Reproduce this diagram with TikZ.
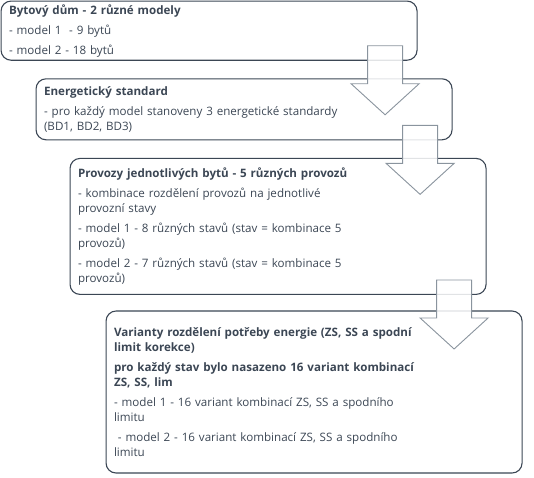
\documentclass[tikz,border=0pt]{standalone}
\usepackage{fontspec}
\setmainfont{Open Sans}
\usetikzlibrary{positioning,calc}
\definecolor{boxline}{HTML}{3B4654}
\definecolor{arrline}{HTML}{8A949E}
\tikzset{
stage/.style = {draw=boxline, line width=1.1pt, rounded corners=10pt, align=left, text=boxline,
	text width=400pt, inner xsep=5.5pt, anchor=north west, minimum width=416pt,
	font=\fontsize{11.6}{15}\selectfont},
flowarrow/.style = {draw=arrline, line width=0.9pt, fill=white, fill opacity=0.85, line join=miter},
}
% block arrow hanging down from the lower right of a stage
\newcommand{\stagearrow}[1]{%
	\draw[flowarrow] ($(#1.south east)+(-50pt,15pt)$) -- ++(35pt,0) -- ++(0,-38pt) -- ++(16.5pt,0)
	-- ++(-34pt,-31pt) -- ++(-34pt,31pt) -- ++(16.5pt,0) -- cycle;}

\begin{document}
\begin{tikzpicture}[x=1pt, y=1pt]

	\useasboundingbox (0,0) rectangle (534,-477);

	\node[stage, minimum height=59pt] (dum) at (0.5,-0.5) {\textbf{Bytový dům - 2 různé modely}\\[5pt]
		- model 1\ \ - 9 bytů\\[5pt]
		- model 2 - 18 bytů};
	\node[stage, minimum height=61pt, below=17.5pt of dum.south west, anchor=north west, xshift=35pt] (standard) {\textbf{Energetický standard}\\[5pt]
		- pro každý model stanoveny 3 energetické standardy\\
		(BD1, BD2, BD3)};
	\node[stage, minimum height=136pt, below=17.5pt of standard.south west, anchor=north west, xshift=34pt] (provozy) {\textbf{Provozy jednotlivých bytů - 5 různých provozů}\\[5pt]
		- kombinace rozdělení provozů na jednotlivé\\
		provozní stavy\\[5pt]
		- model 1 - 8 různých stavů (stav = kombinace 5\\
		provozů)\\[5pt]
		- model 2 - 7 různých stavů (stav = kombinace 5\\
		provozů)};
	\node[stage, minimum height=162pt, below=15.5pt of provozy.south west, anchor=north west, xshift=36pt] (varianty) {\textbf{Varianty rozdělení potřeby energie (ZS, SS a spodní}\\
		\textbf{limit korekce)}\\[5pt]
		\textbf{pro každý stav bylo nasazeno 16 variant kombinací}\\
		\textbf{ZS, SS, lim}\\[5pt]
		- model 1 - 16 variant kombinací ZS, SS a spodního\\
		limitu\\[5pt]
		\ - model 2 - 16 variant kombinací ZS, SS a spodního\\
		limitu};

	\stagearrow{dum}
	\stagearrow{standard}
	\stagearrow{provozy}

\end{tikzpicture}
\end{document}
